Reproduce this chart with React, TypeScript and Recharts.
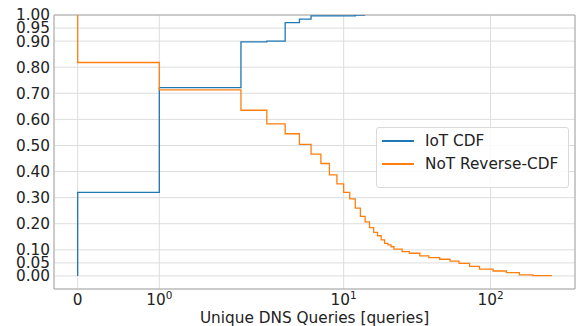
import React from "react";
import { LineChart, Line, XAxis, YAxis, CartesianGrid, Legend, ReferenceArea } from "recharts";

// IoT CDF (x = unique DNS queries, y = cumulative fraction)
const iotX = [0, 0, 1, 2, 3, 4, 5, 6, 12, 14];
const iotY = [0, 0.32, 0.722, 0.897, 0.9, 0.971, 0.984, 0.997, 1.0, 1.0];

// NoT reverse CDF
const notX = [0, 0, 1, 2, 3, 4, 5, 6, 7, 8, 9, 10, 11, 12, 13, 14, 15, 16, 17, 18, 19, 20, 21, 22, 25, 28, 33, 38, 45, 53, 61, 72, 84, 104, 128, 157, 194, 259];
const notY = [1.0, 0.818, 0.713, 0.635, 0.583, 0.545, 0.504, 0.467, 0.431, 0.387, 0.353, 0.32, 0.295, 0.26, 0.228, 0.207, 0.185, 0.167, 0.154, 0.138, 0.125, 0.119, 0.112, 0.103, 0.093, 0.087, 0.077, 0.07, 0.064, 0.057, 0.048, 0.037, 0.026, 0.019, 0.013, 0.004, 0.001, 0.0];

const xTickValues = [0, 1, 10, 100];
const xTickBase = ["0", "10", "10", "10"];
const xTickExp = ["", "0", "1", "2"];
const yTickValues = [0, 0.05, 0.1, 0.2, 0.3, 0.4, 0.5, 0.6, 0.7, 0.8, 0.9, 0.95, 1.0];

const seriesNames = ["IoT CDF", "NoT Reverse-CDF"];
const colors = ["#1f77b4", "#ff7f0e"];

// symlog transform (linthresh = 2, linscale = 1, base 10)
const LINTHRESH = 2;
const LINSCALE_ADJ = 1 / (1 - 1 / 10);
const T = (x: number) =>
  x <= LINTHRESH ? x * LINSCALE_ADJ : LINTHRESH * (LINSCALE_ADJ + Math.log10(x / LINTHRESH));

const iotData = iotX.map((x, i) => ({ t: T(x), y: iotY[i] }));
const notData = notX.map((x, i) => ({ t: T(x), y: notY[i] }));

const tMax = T(notX[notX.length - 1]);
const xDomain = [-0.05 * tMax, tMax * 1.05];
const xTicks = xTickValues.map(T);

const FONT = "DejaVu Sans";
const FS = 15.3;

const XTick = (props: any) => {
  const { x, y, index } = props;
  const base = xTickBase[index];
  const exp = xTickExp[index];
  return (
    <text x={x} y={y + 16} textAnchor="middle" fontFamily={FONT} fontSize={FS} fill="#222">
      {base}
      {exp ? (
        <tspan dy={-6.5} fontSize={10.5}>
          {exp}
        </tspan>
      ) : null}
    </text>
  );
};

const LegendBox = () => (
  <div
    style={{
      width: 191,
      height: 59,
      border: "1px solid #dadada",
      borderRadius: 3,
      background: "rgba(255,255,255,0.85)",
      position: "relative",
      fontFamily: FONT,
      fontSize: FS,
      color: "#222",
    }}
  >
    {seriesNames.map((n, i) => (
      <div
        key={n}
        style={{ position: "absolute", left: 0, top: 3 + i * 23, height: 20, display: "flex", alignItems: "center" }}
      >
        <div style={{ marginLeft: 5, width: 32, height: 1.5, background: colors[i] }} />
        <span style={{ marginLeft: 11, whiteSpace: "nowrap" }}>{n}</span>
      </div>
    ))}
  </div>
);

export default function App() {
  return (
    <div style={{ position: "absolute", left: 0, top: 0 }}>
      <LineChart width={577} height={326} margin={{ top: 15, right: 2, left: 0, bottom: 0 }}>
        <CartesianGrid stroke="#dddddd" strokeWidth={1} />
        <XAxis
          type="number"
          dataKey="t"
          domain={xDomain}
          allowDataOverflow
          ticks={xTicks}
          interval={0}
          height={37}
          tickLine={false}
          axisLine={false}
          tickSize={0}
          tickMargin={0}
          tick={<XTick />}
          label={{
            content: (p: any) => (
              <text
                x={p.viewBox.x + p.viewBox.width / 2}
                y={323}
                textAnchor="middle"
                fontFamily={FONT}
                fontSize={FS}
                fill="#222"
              >
                Unique DNS Queries [queries]
              </text>
            ),
          }}
        />
        <YAxis
          type="number"
          domain={[-0.05, 1]}
          allowDataOverflow
          ticks={yTickValues}
          interval={0}
          width={54}
          tickLine={false}
          axisLine={false}
          tickSize={0}
          tickMargin={4}
          tickFormatter={(v: number) => v.toFixed(2)}
          tick={{ fontFamily: FONT, fontSize: FS, fill: "#222" }}
        />
        <Line
          data={iotData}
          dataKey="y"
          type="stepAfter"
          stroke={colors[0]}
          strokeWidth={1.3}
          dot={false}
          isAnimationActive={false}
          name={seriesNames[0]}
        />
        <Line
          data={notData}
          dataKey="y"
          type="stepAfter"
          stroke={colors[1]}
          strokeWidth={1.3}
          dot={false}
          isAnimationActive={false}
          name={seriesNames[1]}
        />
        <ReferenceArea
          x1={xDomain[0]}
          x2={xDomain[1]}
          y1={-0.05}
          y2={1}
          fill="none"
          stroke="#a8a8a8"
          strokeWidth={1}
          ifOverflow="visible"
        />
        <Legend
          layout="horizontal"
          verticalAlign="middle"
          align="center"
          content={<LegendBox />}
          wrapperStyle={{ left: 376, top: 127, width: 193, height: 61 }}
        />
      </LineChart>
    </div>
  );
}
